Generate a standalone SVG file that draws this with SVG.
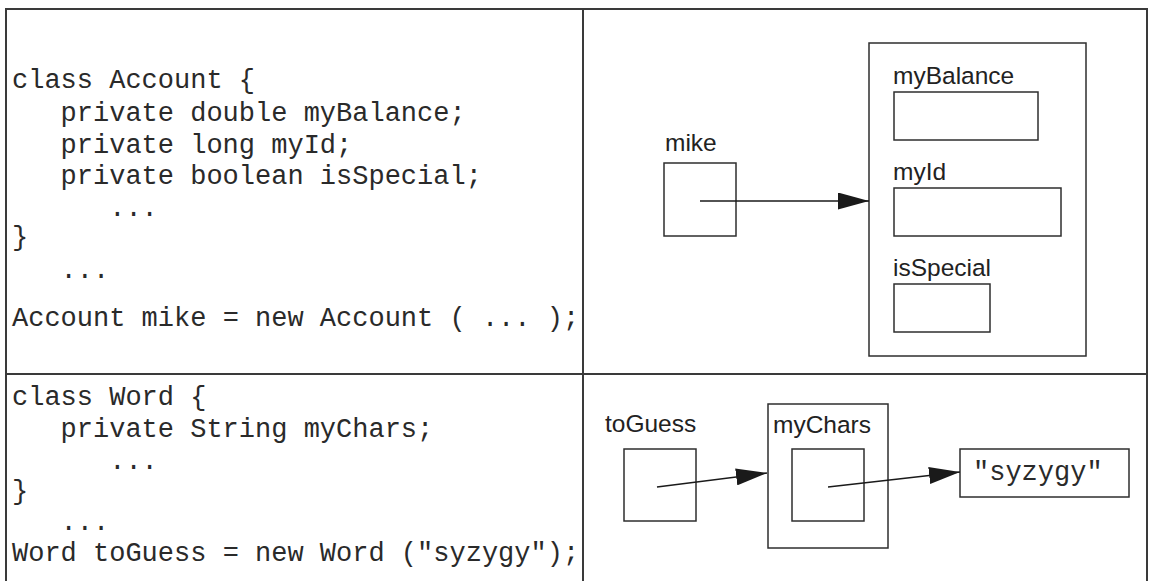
<svg xmlns="http://www.w3.org/2000/svg" width="1154" height="581" viewBox="0 0 1154 581">
<style>
.frame{fill:none;stroke:#3a3a3a;stroke-width:2}
.box{fill:none;stroke:#2e2e2e;stroke-width:1.5}
.code{font-family:"Liberation Mono","Courier New",monospace;font-size:27px;fill:#2a2a2a}
.lbl{font-family:"Liberation Sans",Arial,sans-serif;font-size:24.5px;fill:#222}
.conn{stroke:#1a1a1a;stroke-width:1.5;fill:none}
</style>
<defs>
<marker id="ah" markerUnits="userSpaceOnUse" markerWidth="31" markerHeight="17" refX="31" refY="8.5" orient="auto">
<path d="M0,0 L31,8.5 L0,17 z" fill="#1a1a1a"/>
</marker>
</defs>
<rect width="1154" height="581" fill="#fff"/>
<g id="grid">
<polyline class="frame" points="6,582 6,9 1147,9 1147,582"/>
<line class="frame" x1="583" y1="9" x2="583" y2="582"/>
<line class="frame" x1="6" y1="374" x2="1147" y2="374"/>
</g>
<g id="code-account" class="code">
<text x="12" y="88">class Account {</text>
<text x="60.6" y="121">private double myBalance;</text>
<text x="60.6" y="153">private long myId;</text>
<text x="60.6" y="184">private boolean isSpecial;</text>
<text x="109.2" y="216">...</text>
<text x="12" y="245">}</text>
<text x="60.6" y="278">...</text>
<text x="12" y="326">Account mike = new Account ( ... );</text>
</g>
<g id="code-word" class="code">
<text x="12" y="405">class Word {</text>
<text x="60.6" y="437">private String myChars;</text>
<text x="109.2" y="469">...</text>
<text x="12" y="499">}</text>
<text x="60.6" y="530">...</text>
<text x="12" y="561">Word toGuess = new Word ("syzygy");</text>
</g>
<g id="mike">
<text class="lbl" x="665" y="151">mike</text>
<rect class="box" x="664" y="163" width="72" height="73"/>
</g>
<g id="account-object">
<rect class="box" x="869" y="43" width="217" height="313"/>
<text class="lbl" x="893" y="84">myBalance</text>
<rect class="box" x="894" y="92" width="144" height="48"/>
<text class="lbl" x="893" y="180">myId</text>
<rect class="box" x="894" y="188" width="167" height="48"/>
<text class="lbl" x="893" y="276">isSpecial</text>
<rect class="box" x="894" y="284" width="96" height="48"/>
</g>
<g id="toGuess">
<text class="lbl" x="605" y="432">toGuess</text>
<rect class="box" x="624" y="449" width="72" height="72"/>
</g>
<g id="word-object">
<rect class="box" x="768" y="404" width="120" height="144"/>
<text class="lbl" x="773" y="433">myChars</text>
<rect class="box" x="792" y="449" width="72" height="72"/>
</g>
<g id="syzygy">
<rect class="box" x="960" y="449" width="169" height="48"/>
<text class="code" x="973" y="480">"syzygy"</text>
</g>
<g id="connectors">
<line class="conn" x1="700" y1="201" x2="869" y2="201" marker-end="url(#ah)"/>
<line class="conn" x1="657" y1="487" x2="767" y2="473" marker-end="url(#ah)"/>
<line class="conn" x1="828" y1="487" x2="960" y2="472" marker-end="url(#ah)"/>
</g>
</svg>
